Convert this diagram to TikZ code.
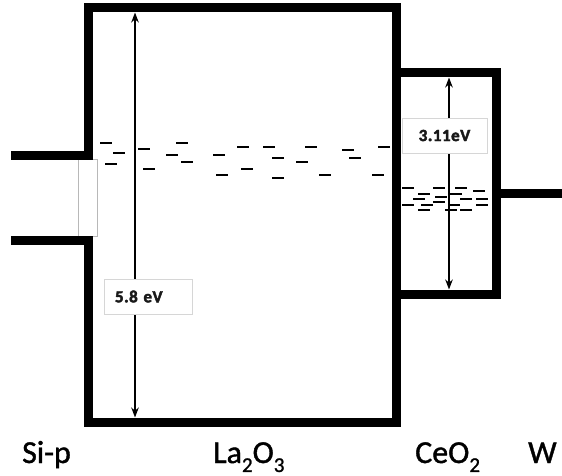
\documentclass[tikz,border=0pt]{standalone}
\usepackage{fontspec}
\setmainfont{Carlito}
\usetikzlibrary{arrows.meta}
\begin{document}
\begin{tikzpicture}[x=1pt,y=-1pt,
  wall/.style={line width=9pt,line join=miter,line cap=butt},
  gaparrow/.style={line width=1.8pt,{Stealth[length=10pt,width=7.5pt]}-{Stealth[length=10pt,width=7.5pt]}},
  lvl/.style={line width=2.6pt,line cap=butt},
  lbl/.style={draw=black!16,fill=white,line width=0.7pt,minimum height=35pt,
    font=\fontsize{17}{17}\selectfont\bfseries\addfontfeatures{LetterSpace=3,FakeBold=2.5},text=black!90},
  matl/.style={anchor=base west,inner sep=0pt,font=\fontsize{32}{32}\selectfont\addfontfeatures{FakeBold=1.2}}]
\useasboundingbox (0,0) rectangle (562,476);
\newcommand{\lowsub}[1]{\raisebox{-0.28em}{\fontsize{21}{21}\selectfont #1}}
% junction window
\draw[black!28,line width=0.7pt] (78,159) rectangle (97,236);
% walls
\coordinate (siTop) at (11,155);
\coordinate (siBot) at (11,240);
\draw[wall] (siTop) -- (88,155) -- (88,8) -- (396,8) -- (396,422) -- (88,422) -- (88,240) -- (siBot);
\draw[wall] (396,73) -- (496,73) -- (496,294) -- (396,294);
\coordinate (wR) at (562,193);
\draw[wall] (496,193) -- (wR);
% levels La2O3
\foreach \x/\y in {100/143,113/153,105/164,138/149,143/169,176/143,166/155,181/162,
  213/155,216/175,237/147,241/169,263/147,272/158,272/178,296/162,305/147,319/175,
  342/150,349/158,372/175,378/147}
  \draw[lvl] (\x,\y) -- ++(12,0);
% levels CeO2
\foreach \x/\y in {402/188,433/188,455/188,473/191,418/194,450/194,435/197,413/199,460/199,476/199,
  433/202,402/205,421/205,448/205,476/205,418/210,445/210,460/210}
  \draw[lvl] (\x,\y) -- ++(11.5,0);
% gap arrows
\coordinate (laTop) at (135,12.5);
\coordinate (laBot) at (135,417.5);
\draw[gaparrow] (laTop) -- (laBot);
\coordinate (ceTop) at (449,77.5);
\coordinate (ceBot) at (449,289.5);
\draw[gaparrow] (ceTop) -- (ceBot);
% labels
\node[lbl,minimum width=88pt,text width=66pt,inner xsep=11pt,align=left] (eLa) at (148,296.5) {5.8 eV};
\node[lbl,minimum width=85pt] (eCe) at (444.5,135.5) {3.11eV};
\node[matl] (si) at (22,463) {Si-p};
\node[matl] (la) at (213,463) {La\lowsub{2}O\lowsub{3}};
\node[matl] (ce) at (415,463) {CeO\lowsub{2}};
\node[matl] (w) at (528,463) {W};
\end{tikzpicture}
\end{document}
